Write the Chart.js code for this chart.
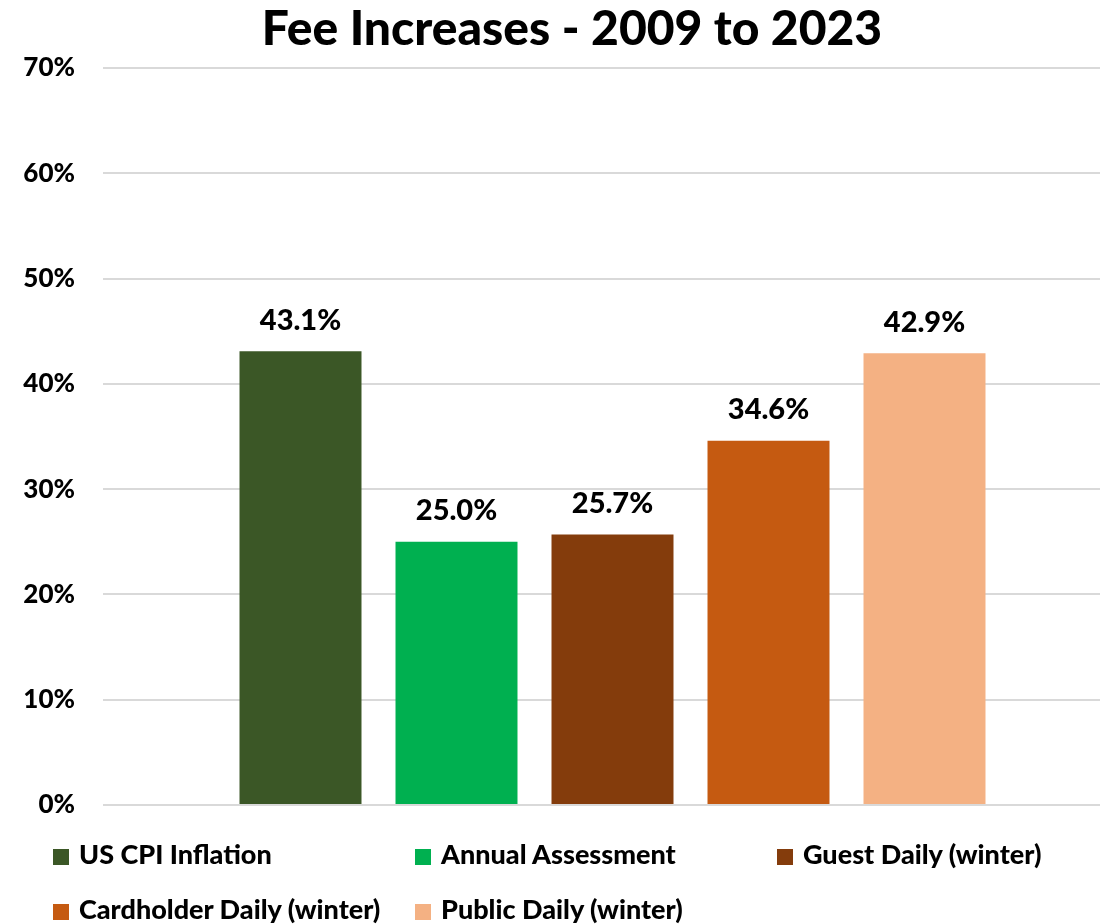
<!DOCTYPE html>
<html>
<head>
<meta charset="utf-8">
<script src="https://cdn.jsdelivr.net/npm/chart.js@4/dist/chart.umd.min.js"></script>
<style>
body { margin: 0; background: #fff; }
#wrap { position: relative; width: 1105px; height: 924px; font-family: Lato, "Noto Sans", sans-serif; }
#title { position: absolute; left: 0; width: 1144px; top: -2px; text-align: center; font-weight: 900; font-size: 48px; color: #000; }
.leg { position: absolute; font-weight: 900; font-size: 27px; color: #000; white-space: nowrap; line-height: 30px; }
.leg span { display: inline-block; width: 16px; height: 16px; margin-right: 10px; vertical-align: -1px; }
</style>
</head>
<body>
<div id="wrap">
  <canvas id="chart" width="1105" height="924"></canvas>
  <div id="title">Fee Increases - 2009 to 2023</div>
  <div id="legend"></div>
</div>
<script>
var title = "Fee Increases - 2009 to 2023";
var series_names = ["US CPI Inflation", "Annual Assessment", "Guest Daily (winter)", "Cardholder Daily (winter)", "Public Daily (winter)"];
var series_values = [0.431, 0.250, 0.257, 0.346, 0.429];
var series_colors = ["#3B5726", "#00B050", "#843C0C", "#C55A11", "#F4B183"];
var y_max = 0.7;
var y_step = 0.1;

var FONT = "Lato, 'Noto Sans', sans-serif";

// value labels above the bars
var bar_labels = {
    id: 'bar_labels',
    afterDatasetsDraw: function(chart) {
        var ctx = chart.ctx;
        ctx.save();
        ctx.font = "900 29px " + FONT;
        ctx.fillStyle = "#000";
        ctx.textAlign = "center";
        ctx.textBaseline = "middle";
        chart.data.datasets.forEach(function(ds, i) {
            var bar = chart.getDatasetMeta(i).data[0];
            ctx.fillText((ds.data[0] * 100).toFixed(1) + "%", bar.x, bar.y - 31);
        });
        ctx.restore();
    }
};

var datasets = [];
for (var i = 0; i < series_names.length; i++) {
    datasets.push({
        label: series_names[i],
        data: [series_values[i]],
        backgroundColor: series_colors[i],
        categoryPercentage: 0.8,
        barPercentage: 0.782
    });
}

var chart = new Chart(document.getElementById("chart"), {
    type: 'bar',
    data: { labels: [''], datasets: datasets },
    options: {
        responsive: false,
        animation: false,
        layout: { padding: { top: 68, bottom: 119, right: 5, left: 0 } },
        plugins: { legend: { display: false }, title: { display: false }, tooltip: { enabled: false } },
        scales: {
            x: { display: false },
            y: {
                min: 0,
                max: y_max,
                ticks: {
                    stepSize: y_step,
                    padding: 28,
                    color: "#000",
                    font: { family: FONT, size: 26, weight: '900' },
                    callback: function(v) { return Math.round(v * 100) + "%"; }
                },
                grid: { color: "#D9D9D9", lineWidth: 2, tickLength: 22, tickColor: "#D9D9D9" },
                border: { display: false },
                afterFit: function(scale) { scale.width = 125; }
            }
        }
    },
    plugins: [bar_labels]
});

// legend laid out in three columns like the original
var legend = document.getElementById("legend");
series_names.forEach(function(name, i) {
    var d = document.createElement("div");
    d.className = "leg";
    d.style.left = [53, 415, 777][i % 3] + "px";
    d.style.top = (839 + Math.floor(i / 3) * 55) + "px";
    d.innerHTML = '<span style="background:' + series_colors[i] + '"></span>' + name;
    legend.appendChild(d);
});
</script>
</body>
</html>
